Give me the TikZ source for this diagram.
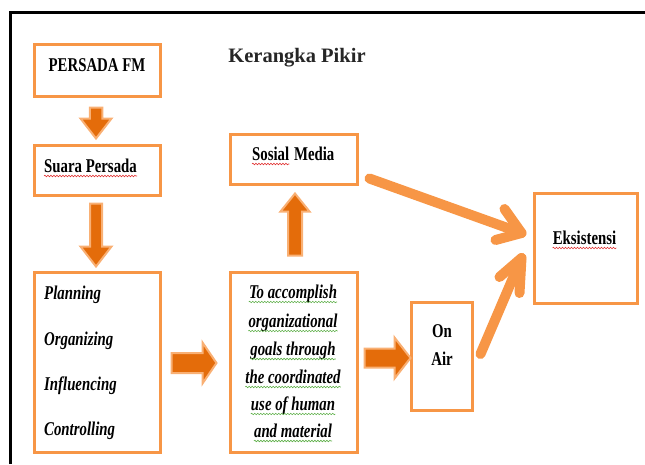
\documentclass[tikz,border=0pt]{standalone}
\usepackage{fontspec}
\setmainfont{Liberation Serif}
\newfontfamily\narrowfont[FakeStretch=0.76]{Liberation Serif}
\usetikzlibrary{calc,decorations.pathmorphing}
\definecolor{boxorange}{HTML}{F79646}
\definecolor{darkorange}{HTML}{E46C0A}
\definecolor{lightedge}{HTML}{F9B074}
\definecolor{spellred}{HTML}{E03030}
\definecolor{spellgreen}{HTML}{5FB04A}
\tikzset{
  box/.style={draw=boxorange, line width=3pt, minimum width=#1, inner sep=0pt},
  txt/.style={inner sep=0pt, font=\narrowfont\fontsize{19.5}{23}\selectfont\bfseries},
  itxt/.style={inner sep=0pt, font=\narrowfont\fontsize{19.5}{23}\selectfont\bfseries\itshape},
  blockarrowstyle/.style={fill=darkorange, draw=lightedge, line width=2pt, line join=miter},
  bigarrow/.style={draw=boxorange, line width=10pt, line cap=round, line join=round},
  redwave/.style={draw=spellred, line width=0.6pt, decorate, decoration={snake, amplitude=0.8pt, segment length=3pt}},
  greenwave/.style={draw=spellgreen, line width=0.6pt, decorate, decoration={snake, amplitude=0.8pt, segment length=3pt}},
}
\newcommand\blockarrow[6]{%
  \begin{scope}[shift={#1},rotate=#2]
    \filldraw[blockarrowstyle] (0,{-#4/2}) -- ({#3-#6},{-#4/2}) -- ({#3-#6},{-#5/2}) -- (#3,0)
      -- ({#3-#6},{#5/2}) -- ({#3-#6},{#4/2}) -- (0,{#4/2}) -- cycle;
  \end{scope}}
\begin{document}
\begin{tikzpicture}[x=1pt,y=-1pt]
\useasboundingbox (0,0) rectangle (645,464);
% outer frame
\draw[line width=3pt] (10,464) -- (10,12) -- (645,12);
% boxes
\node[box=126pt, minimum height=52pt] (persada) at (97,70) {};
\node[box=126pt, minimum height=50pt] (suara) at (97,170) {};
\node[box=126pt, minimum height=180pt] (plan) at (97,362) {};
\node[box=127pt, minimum height=180pt] (goal) at (293.5,362) {};
\node[box=127pt, minimum height=50pt] (sosmed) at (293.5,159) {};
\node[box=61pt, minimum height=108pt] (onair) at (441.5,356) {};
\node[box=103pt, minimum height=110pt] (eks) at (585.5,248) {};
% texts
\node[anchor=base, inner sep=0pt, font=\fontsize{20.5}{24}\selectfont\bfseries, text=black!85] (title) at (297,62) {Kerangka Pikir};
\node[txt, anchor=base] (persadatxt) at (97,71) {PERSADA FM};
\node[txt, anchor=base west] (suaratxt) at (44,172) {Suara Persada};
\node[txt, anchor=base west] (sostxt) at (252,160) {Sosial};
\node[txt, anchor=base west] (medtxt) at ($(sostxt.base east)+(4.4,0)$) {Media};
\node[itxt, anchor=base west] (p1) at (44,299) {Planning};
\node[itxt, anchor=base west] (p2) at (44,345) {Organizing};
\node[itxt, anchor=base west] (p3) at (44,390) {Influencing};
\node[itxt, anchor=base west] (p4) at (44,435) {Controlling};
\node[itxt, anchor=base] (g1) at (293,298) {To accomplish};
\node[itxt, anchor=base] (g2) at (293,327) {organizational};
\node[itxt, anchor=base] (g3) at (293,355) {goals through};
\node[itxt, anchor=base] (g4) at (293,383) {the coordinated};
\node[itxt, anchor=base] (g5) at (293,410) {use of human};
\node[itxt, anchor=base] (g6) at (293,437) {and material};
\node[txt, anchor=base] (on) at (442,337) {On};
\node[txt, anchor=base] (air) at (442,365) {Air};
\node[txt, anchor=base] (ekstxt) at (584.5,244) {Eksistensi};
% spelling marks
\draw[redwave] ($(suaratxt.base west)+(0,4)$) -- ($(suaratxt.base east)+(0,4)$);
\draw[redwave] ($(sostxt.base west)+(0,4)$) -- ($(sostxt.base east)+(0,4)$);
\draw[redwave] ($(ekstxt.base west)+(0,4)$) -- ($(ekstxt.base east)+(0,4)$);
\foreach \g in {g1,g2,g3,g4,g5,g6}
  \draw[greenwave] ($(\g.base west)+(0,4)$) -- ($(\g.base east)+(0,4)$);
% block arrows
\blockarrow{($(persada.south)+(-1,10)$)}{-90}{31}{12.5}{31}{20}
\blockarrow{($(suara.south)+(-1,7)$)}{-90}{63}{12}{31}{20}
\blockarrow{($(goal.north)+(1.5,-15)$)}{90}{62}{14}{29}{18}
\blockarrow{($(plan.east)+(10,1)$)}{0}{45}{20}{41}{14}
\blockarrow{($(goal.east)+(6,-4)$)}{0}{46}{19}{41}{16}
% big arrows to Eksistensi
\coordinate (s1) at ($(sosmed.south east)+(11,-7)$);
\coordinate (t1) at ($(eks.west)+(-11,-15)$);
\coordinate (s2) at ($(onair.east)+(7,-2)$);
\coordinate (t2) at ($(eks.west)+(-11,10)$);
\draw[bigarrow] (s1) -- (t1);
\draw[bigarrow] ($(t1)+(-17,-24)$) -- (t1) -- ($(t1)+(-26,7)$);
\draw[bigarrow] (s2) -- (t2);
\draw[bigarrow] ($(t2)+(-22,19)$) -- (t2) -- ($(t2)+(-2,35)$);
\end{tikzpicture}
\end{document}
